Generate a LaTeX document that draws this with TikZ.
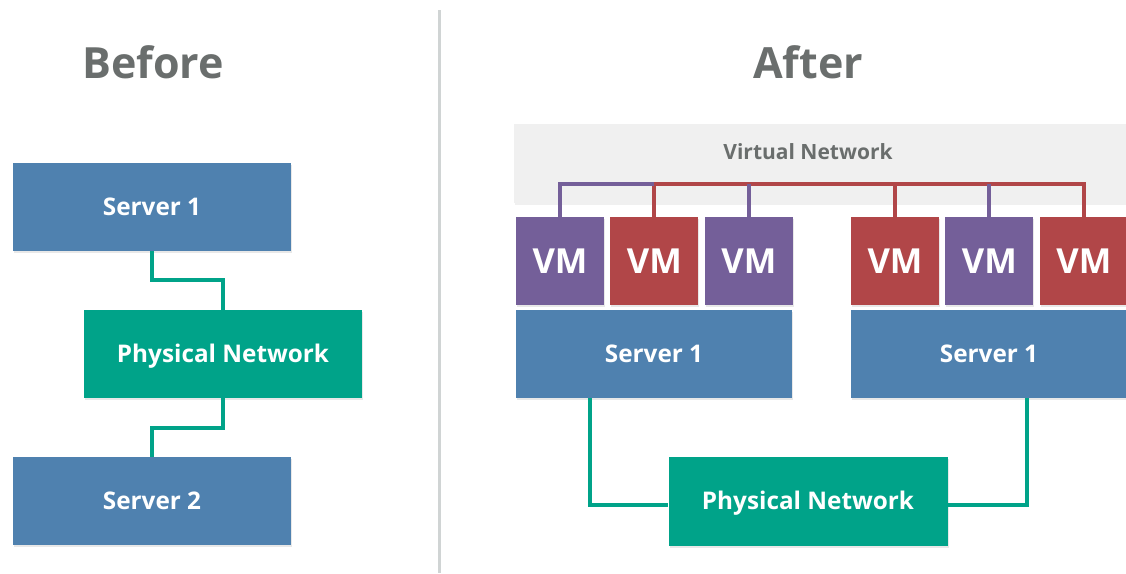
\documentclass[tikz,border=0pt]{standalone}
\usepackage{fontspec}
\setmainfont{Open Sans}
\usepackage{tikz}
\usetikzlibrary{positioning,shadows}
\definecolor{srvblue}{HTML}{4F81AF}
\definecolor{netgreen}{HTML}{00A389}
\definecolor{vmpurple}{HTML}{745F99}
\definecolor{vmred}{HTML}{B14648}
\definecolor{titlegray}{HTML}{6A6E6D}
\definecolor{vnfill}{HTML}{F0F0F0}
\definecolor{divgray}{HTML}{D0D4D4}

\begin{document}
\begin{tikzpicture}[x=1pt, y=-1pt, font=\bfseries,
  box/.style={rectangle, inner sep=0pt, text=white, font=\bfseries\fontsize{24.3}{28}\selectfont,
              minimum height=88pt, text height=17.4pt, text depth=0pt,
              drop shadow={opacity=0.18, shadow xshift=1pt, shadow yshift=-2pt}},
  srv/.style={box, fill=srvblue},
  phys/.style={box, fill=netgreen},
  vm/.style={box, minimum width=88pt, text height=24.6pt, font=\bfseries\fontsize{34.5}{40}\selectfont},
  vmp/.style={vm, fill=vmpurple},
  vmr/.style={vm, fill=vmred},
  title/.style={text=titlegray, font=\bfseries\fontsize{43}{50}\selectfont},
  link/.style={draw=netgreen, line width=4pt},
  vlinkp/.style={draw=vmpurple, line width=4pt},
  vlinkr/.style={draw=vmred, line width=4pt}]
\useasboundingbox (0,0) rectangle (1126,573);
\clip (0,0) rectangle (1126,573);

% divider
\draw[divgray, line width=3pt] (439,10) -- (439,573);

% titles
\node[title] (before) at (153,62) {Before};
\node[title] (after) at (808,62) {After};

% before
\node[srv, minimum width=278pt] (s1) at (152,207) {Server 1};
\node[phys, minimum width=278pt] (pn1) at (223,354) {Physical Network};
\node[srv, minimum width=278pt] (s2) at (152,501) {Server 2};
\draw[link] (s1.south) -- ++(0,29) -| (pn1.north);
\draw[link] (pn1.south) -- ++(0,30) -| (s2.north);

% after
\node[rectangle, fill=vnfill, minimum width=640pt, minimum height=79pt,
      drop shadow={opacity=0.12, shadow xshift=1pt, shadow yshift=-2pt}] (vn) at (834,163) {};
\node[text=titlegray, font=\bfseries\fontsize{21}{25}\selectfont] (vnlabel) at (808,152) {Virtual Network};
\coordinate (bus) at (0,184);

\node[vmp] (vm1) at (560,261) {VM};
\node[vmr, right=6pt of vm1] (vm2) {VM};
\node[vmp, right=6pt of vm2] (vm3) {VM};
\node[vmr] (vm4) at (895,261) {VM};
\node[vmp, right=6pt of vm4] (vm5) {VM};
\node[vmr, right=6pt of vm5] (vm6) {VM};

\node[srv, minimum width=276pt] (sa) at (654,354) {Server 1};
\node[srv, minimum width=276pt] (sb) at (989,354) {Server 1};
\node[phys, minimum width=279pt, minimum height=89pt] (pn2) at (808,501) {Physical Network};

\draw[vlinkr] (vm2.north) -- (vm2.north |- bus) -- (vm6.north |- bus) -- (vm6.north);
\draw[vlinkr] (vm4.north) -- (vm4.north |- bus);
\draw[vlinkp] (vm1.north) -- (vm1.north |- bus) -- (vm2.north |- bus);
\draw[vlinkp] (vm3.north) -- (vm3.north |- bus);
\draw[vlinkp] (vm5.north) -- (vm5.north |- bus);

\draw[link] ([xshift=-64pt]sa.south) |- ([yshift=-4pt]pn2.west);
\draw[link] ([xshift=38pt]sb.south) |- ([yshift=-4pt]pn2.east);
\end{tikzpicture}
\end{document}
